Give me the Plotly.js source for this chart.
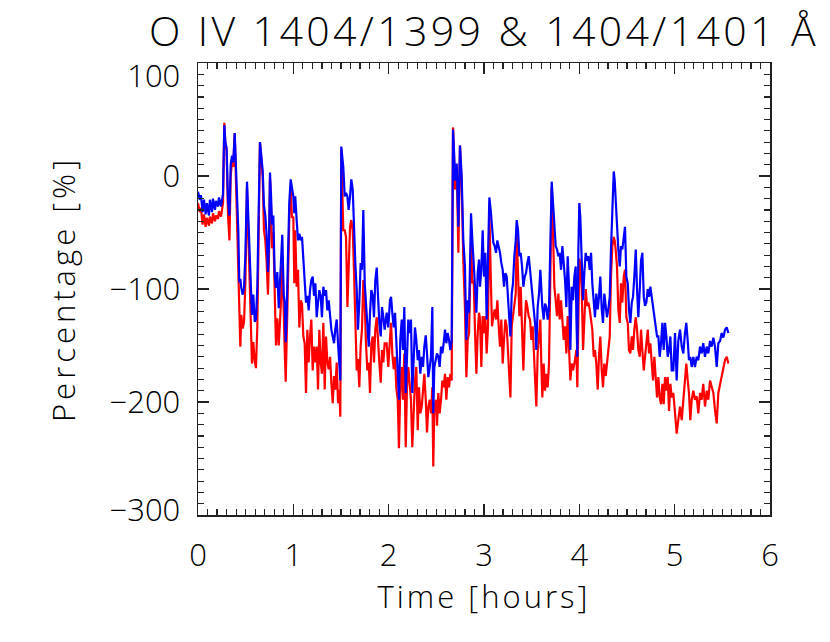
<!DOCTYPE html>
<html>
<head>
<meta charset="utf-8">
<script src="https://cdn.plot.ly/plotly-3.0.1.min.js"></script>
<style>
  html, body { margin: 0; padding: 0; background: #fff; }
  #chart { width: 830px; height: 642px; }
  .gtitle { letter-spacing: 3.4px; }
  .xtitle { letter-spacing: 3px; }
  .ytitle { letter-spacing: 4px; }
</style>
</head>
<body>
<div id="chart"></div>
<script>
// O IV line ratio departures.
const timeHours = [
  0.000, 0.020, 0.031, 0.048, 0.063, 0.080, 0.094, 0.115, 0.125, 0.147, 0.157, 0.178, 0.189, 0.210, 0.220, 0.241, 0.252, 0.262,
  0.276, 0.287, 0.300, 0.315, 0.330, 0.343, 0.357, 0.370, 0.385, 0.400, 0.413, 0.423, 0.433, 0.444, 0.454, 0.469, 0.483, 0.497,
  0.514, 0.528, 0.538, 0.553, 0.566, 0.580, 0.595, 0.608, 0.622, 0.637, 0.650, 0.664, 0.679, 0.692, 0.706, 0.720, 0.734, 0.745,
  0.755, 0.766, 0.776, 0.790, 0.805, 0.818, 0.832, 0.847, 0.860, 0.874, 0.884, 0.899, 0.909, 0.920, 0.930, 0.944, 0.958, 0.972,
  0.986, 1.000, 1.010, 1.020, 1.035, 1.049, 1.063, 1.077, 1.091, 1.105, 1.119, 1.133, 1.147, 1.161, 1.175, 1.189, 1.203, 1.217,
  1.231, 1.245, 1.259, 1.273, 1.287, 1.300, 1.315, 1.329, 1.343, 1.357, 1.371, 1.385, 1.399, 1.413, 1.427, 1.440, 1.455, 1.469,
  1.482, 1.493, 1.503, 1.514, 1.524, 1.539, 1.553, 1.567, 1.580, 1.595, 1.608, 1.623, 1.636, 1.650, 1.665, 1.678, 1.692, 1.706,
  1.720, 1.734, 1.749, 1.762, 1.776, 1.791, 1.804, 1.818, 1.833, 1.846, 1.860, 1.875, 1.888, 1.902, 1.917, 1.930, 1.944, 1.958,
  1.979, 1.996, 2.014, 2.025, 2.038, 2.053, 2.067, 2.080, 2.095, 2.108, 2.122, 2.137, 2.150, 2.164, 2.179, 2.192, 2.206, 2.221,
  2.234, 2.248, 2.263, 2.276, 2.290, 2.305, 2.318, 2.332, 2.347, 2.360, 2.374, 2.389, 2.402, 2.416, 2.431, 2.444, 2.458, 2.468,
  2.479, 2.497, 2.507, 2.521, 2.535, 2.549, 2.563, 2.577, 2.591, 2.605, 2.619, 2.633, 2.647, 2.661, 2.675, 2.685, 2.696, 2.714,
  2.731, 2.748, 2.766, 2.783, 2.800, 2.815, 2.829, 2.843, 2.864, 2.878, 2.892, 2.906, 2.920, 2.934, 2.948, 2.958, 2.972, 2.986,
  3.000, 3.014, 3.028, 3.042, 3.056, 3.070, 3.084, 3.098, 3.112, 3.126, 3.140, 3.154, 3.168, 3.182, 3.196, 3.210, 3.224, 3.238,
  3.252, 3.266, 3.277, 3.291, 3.304, 3.318, 3.333, 3.343, 3.357, 3.371, 3.385, 3.399, 3.413, 3.427, 3.441, 3.455, 3.469, 3.483,
  3.497, 3.511, 3.525, 3.538, 3.549, 3.563, 3.577, 3.591, 3.601, 3.612, 3.626, 3.640, 3.654, 3.668, 3.682, 3.696, 3.710, 3.724,
  3.738, 3.752, 3.766, 3.780, 3.794, 3.808, 3.822, 3.836, 3.850, 3.864, 3.878, 3.892, 3.906, 3.920, 3.934, 3.948, 3.962, 3.969,
  3.979, 3.990, 4.000, 4.010, 4.025, 4.039, 4.052, 4.067, 4.081, 4.094, 4.109, 4.123, 4.136, 4.151, 4.164, 4.178, 4.193, 4.206,
  4.220, 4.235, 4.248, 4.262, 4.277, 4.290, 4.304, 4.319, 4.332, 4.346, 4.361, 4.371, 4.381, 4.395, 4.409, 4.424, 4.437, 4.451,
  4.466, 4.479, 4.493, 4.508, 4.521, 4.535, 4.550, 4.563, 4.577, 4.592, 4.605, 4.619, 4.634, 4.647, 4.661, 4.676, 4.689, 4.703,
  4.718, 4.731, 4.745, 4.760, 4.773, 4.787, 4.801, 4.815, 4.829, 4.843, 4.857, 4.871, 4.885, 4.899, 4.913, 4.927, 4.941, 4.955,
  4.969, 4.986, 5.004, 5.021, 5.038, 5.056, 5.074, 5.091, 5.108, 5.122, 5.137, 5.150, 5.164, 5.179, 5.196, 5.213, 5.231, 5.248,
  5.266, 5.283, 5.300, 5.318, 5.336, 5.353, 5.371, 5.388, 5.406, 5.423, 5.441, 5.458, 5.476, 5.493, 5.511, 5.528, 5.546, 5.563
];

// 1404/1401 (blue)
const ratio1401 = [
  -14, -21, -17, -32, -21, -34, -24, -35, -21, -32, -20, -30, -22, -27, -19, -27, -21, -16,
  45, 30, 25, -23, -35, 10, 18, 12, 38, 1, -35, -49, -94, -91, -99, -105, -99, -70,
  -5, -35, -64, -99, -123, -105, -129, -127, -99, -28, 30, 18, 4, -26, -35, -52, -85, -58,
  3, -17, -43, -35, -88, -99, -85, -117, -96, -76, -52, -105, -111, -147, -123, -70, -23, -3,
  -11, -18, -33, -18, -39, -57, -51, -57, -54, -77, -101, -112, -106, -119, -101, -92, -89, -106,
  -95, -125, -112, -101, -106, -125, -98, -106, -101, -119, -110, -125, -136, -142, -148, -136, -127, -148,
  -166, -181, 26, 17, 8, -18, -15, -18, -30, -18, -3, -12, -48, -77, -101, -136, -112, -77,
  -83, -30, -95, -116, -136, -151, -122, -101, -106, -125, -92, -81, -106, -130, -142, -116, -125, -136,
  -121, -134, -110, -107, -121, -134, -121, -145, -169, -198, -145, -127, -154, -116, -192, -148, -127, -139,
  -127, -192, -154, -134, -145, -163, -154, -175, -160, -169, -151, -141, -157, -178, -169, -160, -116, -210,
  -169, -163, -157, -160, -169, -151, -157, -148, -136, -148, -139, -145, -154, -145, 41, 23, -4, 11,
  -45, 27, -1, -57, -80, -145, -110, -121, -33, -57, -74, -98, -121, -86, -74, -98, -83, -48,
  -89, -68, -127, -71, -19, -30, -45, -59, -62, -68, -57, -62, -68, -77, -83, -98, -86, -89,
  -110, -127, -142, -104, -95, -71, -57, -39, -48, -71, -68, -80, -98, -89, -86, -77, -71, -83,
  -98, -110, -121, -133, -154, -116, -104, -83, -104, -116, -127, -113, -116, -127, -116, -68, -5, -24,
  -48, -62, -65, -71, -68, -83, -62, -77, -92, -116, -71, -98, -154, -98, -110, -89, -80, -125,
  -160, -65, -24, -36, -75, -110, -86, -68, -75, -71, -83, -68, -95, -110, -125, -104, -118, -107,
  -89, -118, -130, -104, -115, -125, -118, -107, -65, -36, 4, -4, -21, -36, -65, -80, -62, -65,
  -54, -45, -89, -95, -118, -130, -112, -107, -89, -65, -100, -125, -100, -75, -68, -107, -115, -112,
  -100, -107, -98, -107, -118, -125, -136, -142, -142, -160, -148, -130, -154, -130, -142, -160, -154, -142,
  -172, -172, -139, -181, -146, -136, -151, -157, -139, -130, -146, -163, -160, -169, -160, -169, -160, -163,
  -151, -157, -148, -160, -151, -157, -146, -151, -143, -151, -169, -148, -146, -139, -143, -136, -134, -139
];

// 1404/1399 (red)
const ratio1399 = [
  -24, -32, -28, -43, -34, -45, -37, -44, -36, -42, -33, -40, -35, -38, -31, -36, -30, -24,
  47, 28, 22, -35, -57, 0, 12, 8, 38, -5, -45, -73, -112, -151, -123, -135, -129, -94,
  -10, -45, -85, -126, -166, -147, -164, -170, -134, -35, 30, 15, -2, -48, -57, -76, -105, -70,
  -2, -25, -64, -50, -112, -150, -126, -150, -129, -105, -70, -135, -152, -182, -152, -94, -35, -12,
  -37, -36, -95, -48, -98, -83, -134, -110, -113, -142, -148, -192, -136, -165, -142, -127, -172, -151,
  -165, -151, -189, -136, -165, -175, -130, -189, -142, -165, -171, -160, -183, -201, -177, -189, -165, -201,
  -189, -213, 24, -12, -48, -48, -54, -116, -71, -45, -39, -48, -83, -125, -172, -162, -187, -151,
  -136, -92, -113, -148, -172, -165, -192, -148, -142, -165, -136, -125, -148, -165, -183, -154, -165, -148,
  -148, -169, -144, -130, -157, -171, -160, -187, -198, -241, -187, -169, -198, -157, -240, -187, -169, -187,
  -198, -240, -198, -181, -169, -225, -187, -210, -204, -187, -175, -198, -227, -204, -198, -210, -187, -257,
  -204, -198, -221, -192, -210, -198, -181, -187, -175, -198, -178, -187, -175, -181, 43, 20, -12, 8,
  -68, 27, -8, -75, -116, -178, -145, -139, -57, -95, -92, -139, -175, -139, -121, -127, -169, -124,
  -139, -124, -157, -133, -30, -86, -133, -124, -118, -127, -110, -133, -151, -127, -166, -145, -127, -133,
  -157, -175, -196, -133, -124, -110, -104, -50, -98, -124, -98, -127, -172, -133, -110, -116, -124, -127,
  -145, -133, -157, -181, -204, -157, -145, -127, -166, -196, -166, -190, -175, -187, -166, -98, -10, -50,
  -98, -110, -124, -104, -127, -110, -124, -145, -133, -157, -124, -157, -181, -166, -172, -166, -157, -154,
  -187, -100, -73, -79, -100, -154, -130, -100, -115, -112, -118, -130, -136, -160, -154, -166, -189, -160,
  -142, -172, -187, -166, -177, -166, -154, -142, -89, -62, -54, -57, -65, -80, -118, -130, -95, -112,
  -89, -83, -125, -130, -154, -157, -142, -154, -136, -125, -136, -154, -160, -136, -154, -172, -160, -148,
  -136, -157, -148, -166, -181, -160, -184, -196, -178, -196, -202, -184, -202, -178, -190, -178, -208, -184,
  -196, -192, -210, -228, -216, -204, -216, -198, -175, -166, -181, -192, -216, -198, -190, -198, -195, -210,
  -192, -198, -184, -204, -190, -198, -181, -187, -192, -207, -219, -192, -184, -178, -169, -163, -160, -166
];

const FONT = "'Open Sans', 'DejaVu Sans', sans-serif";
const WEIGHT = 300;

const axisBase = {
  showline: true, linecolor: "#222", linewidth: 1.5, mirror: "allticks",
  showgrid: false, zeroline: false,
  ticks: "inside", ticklen: 11, tickwidth: 1.5, tickcolor: "#222",
  tickfont: { family: FONT, size: 31, color: "#000", weight: WEIGHT },
  minor: { ticks: "inside", ticklen: 6, tickwidth: 1.2, tickcolor: "#222", showgrid: false },
};

const traces = [
  { type: "scatter", mode: "lines", x: timeHours, y: ratio1399, name: "1404/1399",
    line: { color: "#ff0000", width: 2.2 }, hoverinfo: "skip" },
  { type: "scatter", mode: "lines", x: timeHours, y: ratio1401, name: "1404/1401",
    line: { color: "#0000ff", width: 2.2 }, hoverinfo: "skip" },
];

const layout = {
  width: 830, height: 642,
  margin: { l: 198, r: 60, t: 63, b: 127 },
  paper_bgcolor: "#fff", plot_bgcolor: "#fff",
  showlegend: false,
  font: { family: FONT, color: "#000", weight: WEIGHT },
  title: {
    text: "O IV 1404/1399 & 1404/1401 Å",
    font: { family: FONT, size: 41, color: "#000", weight: WEIGHT },
    xref: "paper", x: 0.5, xanchor: "center",
    yref: "container", y: 0.951, yanchor: "middle",
  },
  xaxis: {
    ...axisBase,
    range: [0, 6], dtick: 1, tick0: 0,
    minor: { ...axisBase.minor, dtick: 0.1 },
    ticklabelstandoff: 12,
    title: { text: "Time [hours]", font: { family: FONT, size: 31, weight: WEIGHT }, standoff: 6 },
  },
  yaxis: {
    ...axisBase,
    range: [-300, 100], dtick: 100, tick0: 0,
    minor: { ...axisBase.minor, dtick: 10 },
    ticklabelstandoff: 10,
    title: { text: "Percentage [%]", font: { family: FONT, size: 31, weight: WEIGHT }, standoff: 24 },
  },
};

Plotly.newPlot("chart", traces, layout, { staticPlot: true, displayModeBar: false }).then(function (gd) {
  // IDL nudges the end labels inside the box: top one down, bottom one up
  gd.querySelectorAll(".ytick text").forEach(function (t) {
    const s = t.textContent;
    if (s === "100") t.setAttribute("transform", (t.getAttribute("transform") || "") + " translate(0,13)");
    if (s === "\u2212300") t.setAttribute("transform", (t.getAttribute("transform") || "") + " translate(0,-5)");
  });
});
</script>
</body>
</html>
